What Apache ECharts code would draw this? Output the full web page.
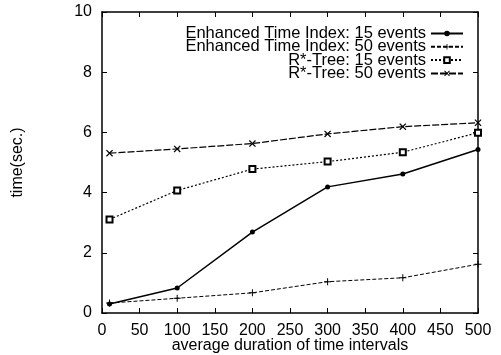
<!DOCTYPE html>
<html>
<head>
<meta charset="utf-8">
<script src="https://cdn.jsdelivr.net/npm/echarts@6/dist/echarts.min.js"></script>
<style>
  html, body { margin: 0; padding: 0; background: #fff; }
  #chart { width: 501px; height: 355px; }
</style>
</head>
<body>
<div id="chart"></div>
<script>
// data
var durations = [10, 100, 200, 300, 400, 500];
var enhanced15 = [0.30, 0.83, 2.69, 4.19, 4.62, 5.43];
var enhanced50 = [0.33, 0.49, 0.67, 1.04, 1.17, 1.62];
var rstar15 = [3.11, 4.07, 4.78, 5.03, 5.34, 5.99];
var rstar50 = [5.31, 5.45, 5.63, 5.95, 6.19, 6.32];
var seriesNames = [
    'Enhanced Time Index: 15 events',
    'Enhanced Time Index: 50 events',
    'R*-Tree: 15 events',
    'R*-Tree: 50 events'
];

var FONT = '"Liberation Sans", Arial, sans-serif';
var plusPath = 'path://M4.3,0H5.7V4.3H10V5.7H5.7V10H4.3V5.7H0V4.3H4.3Z';
var crossPath = 'path://M0,1.2L1.2,0L5,3.8L8.8,0L10,1.2L6.2,5L10,8.8L8.8,10L5,6.2L1.2,10L0,8.8L3.8,5Z';

function pairs(ys) {
    return durations.map(function (x, i) { return [x, ys[i]]; });
}

var chart = echarts.init(document.getElementById('chart'), null, { renderer: 'canvas' });

var axisCommon = {
    axisLine: { show: true, onZero: false, lineStyle: { color: '#000', width: 1.5 } },
    axisTick: { show: true, inside: true, length: 5, lineStyle: { color: '#000', width: 1 } },
    splitLine: { show: false }
};

chart.setOption({
    backgroundColor: '#fff',
    animation: false,
    grid: { left: 102, right: 23, top: 12, bottom: 42, outerBoundsMode: 'none' },
    legend: {
        orient: 'vertical',
        right: 32,
        top: 20,
        align: 'right',
        itemWidth: 32,
        itemHeight: 7,
        itemGap: -3.7,
        textStyle: { fontFamily: FONT, fontSize: 16.5, color: '#000' },
        data: seriesNames
    },
    xAxis: [
        Object.assign({
            type: 'value', min: 0, max: 500, interval: 50,
            name: 'average duration of time intervals',
            nameLocation: 'middle', nameGap: 25, nameMoveOverlap: false,
            nameTextStyle: { fontFamily: FONT, fontSize: 16, color: '#000' },
            axisLabel: { fontFamily: FONT, fontSize: 16, color: '#000', margin: 10 }
        }, axisCommon),
        Object.assign({
            type: 'value', min: 0, max: 500, interval: 50, position: 'top',
            axisLabel: { show: false }
        }, axisCommon)
    ],
    yAxis: [
        Object.assign({
            type: 'value', min: 0, max: 10, interval: 2,
            name: 'time(sec.)',
            nameLocation: 'middle', nameGap: 76, nameMoveOverlap: false,
            nameTextStyle: { fontFamily: FONT, fontSize: 16, color: '#000' },
            axisLabel: { fontFamily: FONT, fontSize: 16, color: '#000', margin: 10 }
        }, axisCommon),
        Object.assign({
            type: 'value', min: 0, max: 10, interval: 2, position: 'right',
            axisLabel: { show: false }
        }, axisCommon)
    ],
    series: [
        {
            name: seriesNames[0], type: 'line', data: pairs(enhanced15),
            symbol: 'circle', symbolSize: 5,
            lineStyle: { color: '#000', width: 1.5, type: 'solid' },
            itemStyle: { color: '#000' }
        },
        {
            name: seriesNames[1], type: 'line', data: pairs(enhanced50),
            symbol: plusPath, symbolSize: 7,
            lineStyle: { color: '#000', width: 1, type: [4, 2] },
            itemStyle: { color: '#000' }
        },
        {
            name: seriesNames[2], type: 'line', data: pairs(rstar15),
            symbol: 'emptyRect', symbolSize: 6,
            lineStyle: { color: '#000', width: 1.2, type: [2, 2] },
            itemStyle: { color: '#000', borderWidth: 1.3 }
        },
        {
            name: seriesNames[3], type: 'line', data: pairs(rstar50),
            symbol: crossPath, symbolSize: 7,
            lineStyle: { color: '#000', width: 1.2, type: [7, 2] },
            itemStyle: { color: '#000' }
        }
    ]
});
</script>
</body>
</html>
